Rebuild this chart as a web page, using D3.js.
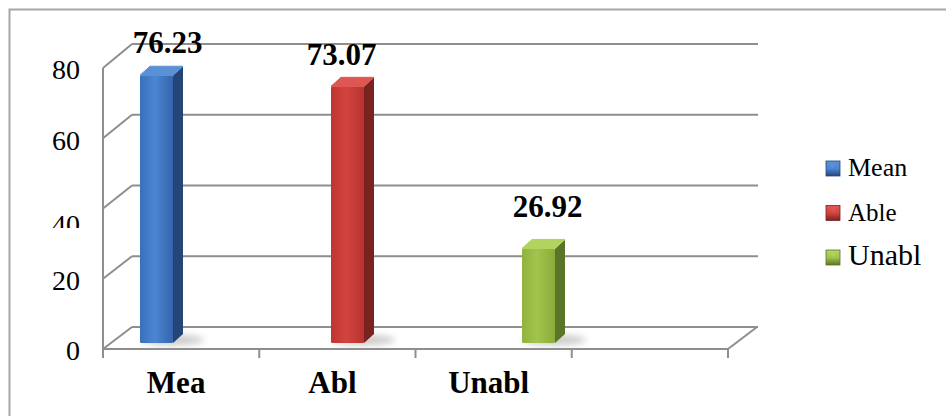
<!DOCTYPE html>
<html>
<head>
<meta charset="utf-8">
<script src="https://cdn.jsdelivr.net/npm/d3@7"></script>
<style>
  html, body { margin: 0; padding: 0; background: #fff; }
  svg { display: block; }
</style>
</head>
<body>
<svg id="chart" width="946" height="416"></svg>
<script>
// ---- data ----
const categories = ["Mea", "Abl", "Unabl", ""];
const series = ["Mean", "Able", "Unabl"];
const values = [76.23, 73.07, 26.92];
const valueLabels = ["76.23", "73.07", "26.92"];
const yTicks = [0, 20, 40, 60, 80];

const FONT = "'Liberation Serif', 'Times New Roman', Tinos, 'DejaVu Serif', serif";

const colors = {
  Mean:  { front: ["#3a6fbb", "#4b86d3", "#3564ad"], side: "#244676", top: "#5a90d6" },
  Able:  { front: ["#be3532", "#d2443f", "#b8322f"], side: "#7a2220", top: "#de5752" },
  Unabl: { front: ["#8fb33e", "#a0c44c", "#8aad3a"], side: "#5a7527", top: "#b1d35f" }
};

const svg = d3.select("#chart");
const defs = svg.append("defs");

// ---- scales ----
const yFront = d3.scaleLinear().domain([0, 80]).range([349, 68]);
const yBack  = d3.scaleLinear().domain([0, 80]).range([327, 44]);
const yBar   = d3.scaleLinear().domain([0, 80]).range([343, 62]);
const xCat   = d3.scaleBand().domain(categories).range([103, 728]).padding(0);
const xBar   = d3.scalePoint().domain(series).range([140, 522]);
const depthX = 29;
const barW = 33, barDx = 10, barDy = 9;

const grid = "#8e8e8e";

// outer border
svg.append("rect").attr("x", 9.5).attr("y", 9.5).attr("width", 1000).attr("height", 1000)
  .attr("fill", "none").attr("stroke", "#a6a6a6").attr("stroke-width", 2);

// ---- walls / gridlines ----
const g = svg.append("g");
const x0 = xCat.range()[0], x1 = xCat.range()[1];
g.selectAll("line.back").data(yTicks).join("line")
  .attr("x1", x0 + depthX).attr("x2", x1 + depthX + 1)
  .attr("y1", d => yBack(d)).attr("y2", d => yBack(d))
  .attr("stroke", grid).attr("stroke-width", 2);
g.selectAll("line.diag").data(yTicks).join("line")
  .attr("x1", x0).attr("y1", d => yFront(d))
  .attr("x2", x0 + depthX).attr("y2", d => yBack(d))
  .attr("stroke", grid).attr("stroke-width", 2);
g.append("line").attr("x1", x0).attr("x2", x0)
  .attr("y1", yFront(0) + 1).attr("y2", yFront(80))
  .attr("stroke", grid).attr("stroke-width", 2);
g.append("line").attr("x1", x0).attr("x2", x1)
  .attr("y1", yFront(0)).attr("y2", yFront(0))
  .attr("stroke", grid).attr("stroke-width", 2);
g.append("line").attr("x1", x1).attr("y1", yFront(0))
  .attr("x2", x1 + depthX).attr("y2", yBack(0))
  .attr("stroke", grid).attr("stroke-width", 2);
const tickXs = categories.map(c => xCat(c)).concat([x1]);
g.selectAll("line.xt").data(tickXs).join("line")
  .attr("x1", d => d).attr("x2", d => d)
  .attr("y1", yFront(0)).attr("y2", yFront(0) + 9)
  .attr("stroke", grid).attr("stroke-width", 2);

// ---- y axis labels ----
defs.append("clipPath").attr("id", "clip40w").attr("clipPathUnits", "userSpaceOnUse")
  .append("rect").attr("x", -200).attr("y", 216).attr("width", 300).attr("height", 12);

const yAxis = d3.axisLeft(yFront).tickValues(yTicks).tickSize(0).tickPadding(23)
  .tickFormat(d3.format("d"));
const ya = svg.append("g").attr("transform", `translate(${x0},0)`).call(yAxis);
ya.select(".domain").remove();
ya.attr("font-family", null).attr("font-size", null);
ya.selectAll("text")
  .style("font-family", FONT)
  .style("font-size", "28px")
  .attr("fill", "#000")
  .attr("dy", "0.39em");
ya.selectAll(".tick").filter(d => d === 40).each(function() {
  const t = d3.select(this);
  const tr = t.attr("transform");
  const txt = t.select("text").attr("dy", "0.9em").node();
  const wrap = ya.append("g").attr("clip-path", "url(#clip40w)");
  const inner = wrap.append("g").attr("transform", tr);
  inner.node().appendChild(txt);
});

// ---- category labels ----
svg.selectAll("text.cat").data(categories.filter(c => c !== "")).join("text")
  .attr("class", "cat")
  .attr("x", d => xCat(d) + xCat.bandwidth() / 2 - 5)
  .attr("y", 393)
  .attr("text-anchor", "middle")
  .style("font-family", FONT).style("font-size", "31px").style("font-weight", "bold")
  .attr("fill", "#000")
  .text(d => d);

// ---- bars ----
const blur = defs.append("filter").attr("id", "shadow").attr("x", "-50%").attr("y", "-200%")
  .attr("width", "200%").attr("height", "500%");
blur.append("feGaussianBlur").attr("stdDeviation", 3.5);

series.forEach((s, i) => {
  const gr = defs.append("linearGradient").attr("id", "gf" + i)
    .attr("x1", "0").attr("x2", "1").attr("y1", "0").attr("y2", "0");
  gr.append("stop").attr("offset", "0").attr("stop-color", colors[s].front[0]);
  gr.append("stop").attr("offset", "0.45").attr("stop-color", colors[s].front[1]);
  gr.append("stop").attr("offset", "1").attr("stop-color", colors[s].front[2]);
});

const bars = svg.append("g");
series.forEach((s, i) => {
  const x = xBar(s);
  const yt = yBar(values[i]);
  const yb = yBar(0);
  const bg = bars.append("g");
  bg.append("ellipse")
    .attr("cx", x + barW / 2 + 16).attr("cy", yb - 3)
    .attr("rx", barW * 0.95).attr("ry", 5)
    .attr("fill", "#9a9a9a").attr("opacity", 0.55).attr("filter", "url(#shadow)");
  bg.append("path")
    .attr("d", `M${x + barW},${yt} L${x + barW + barDx},${yt - barDy} L${x + barW + barDx},${yb - barDy} L${x + barW},${yb} Z`)
    .attr("fill", colors[s].side);
  bg.append("rect").attr("x", x).attr("y", yt).attr("width", barW).attr("height", yb - yt)
    .attr("rx", 1.5).attr("fill", `url(#gf${i})`);
  bg.append("path")
    .attr("d", `M${x},${yt} L${x + barDx},${yt - barDy} L${x + barW + barDx},${yt - barDy} L${x + barW},${yt} Z`)
    .attr("fill", colors[s].top).attr("stroke", colors[s].top).attr("stroke-width", 1)
    .attr("stroke-linejoin", "round");
});

// ---- value labels ----
svg.selectAll("text.val").data(series).join("text")
  .attr("class", "val")
  .attr("x", (d, i) => xBar(d) + (barW + barDx) / 2 + [6, -11, 4][i])
  .attr("y", (d, i) => yBar(values[i]) - barDy - [13, 12, 22][i])
  .attr("text-anchor", "middle")
  .style("font-family", FONT).style("font-size", "31px").style("font-weight", "bold")
  .attr("fill", "#000")
  .text((d, i) => valueLabels[i]);

// ---- legend ----
const legendY = d3.scalePoint().domain(series).range([176, 265]);
const legendSize = { Mean: 26, Able: 25, Unabl: 30 };
const leg = svg.append("g");
series.forEach((s, i) => {
  const gr = defs.append("linearGradient").attr("id", "lg" + i)
    .attr("x1", "0").attr("x2", "0").attr("y1", "0").attr("y2", "1");
  gr.append("stop").attr("offset", "0").attr("stop-color", colors[s].top);
  gr.append("stop").attr("offset", "0.5").attr("stop-color", colors[s].front[1]);
  gr.append("stop").attr("offset", "1").attr("stop-color", colors[s].side);
  const by = legendY(s);
  leg.append("rect").attr("x", 826).attr("y", by - 15).attr("width", 14).attr("height", 15)
    .attr("fill", `url(#lg${i})`).attr("stroke", colors[s].side).attr("stroke-width", 0.8);
  leg.append("path")
    .attr("d", `M827,${by - 14} L833,${by - 8} L839,${by - 14} Z`)
    .attr("fill", colors[s].top).attr("opacity", 0.8);
  leg.append("text").attr("x", 848).attr("y", by)
    .style("font-family", FONT).style("font-size", legendSize[s] + "px")
    .attr("fill", "#000").text(s);
});
</script>
</body>
</html>
